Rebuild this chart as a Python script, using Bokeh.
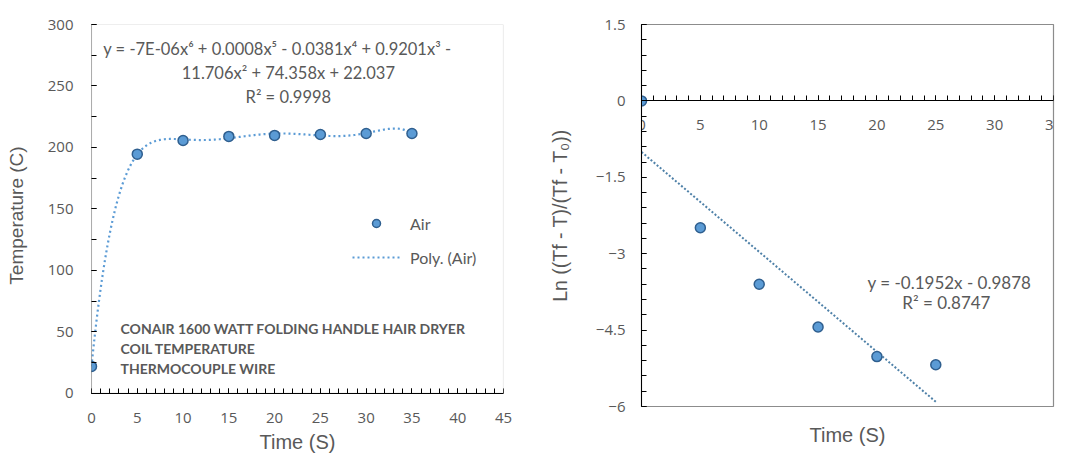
import numpy as np
from bokeh.plotting import figure
from bokeh.models import (Label, Legend, LegendItem, SingleIntervalTicker, Range1d,
                          BoxAnnotation, LinearAxis, FixedTicker, CustomJSTickFormatter)
from bokeh.layouts import row
from bokeh.embed import file_html
from bokeh.resources import INLINE

# ---------------- data ----------------
# Left chart: coil temperature vs time
time_air = [0, 5, 10, 15, 20, 25, 30, 35]
temp_air = [22, 194.6, 205.7, 209.0, 209.8, 210.6, 211.4, 211.4]

# Right chart: Ln((Tf - T)/(Tf - T0)) vs time
time_ln = [0, 5, 10, 15, 20, 25]
ln_ratio = [0, -2.49, -3.60, -4.44, -5.02, -5.18]

left_eq_lines = ["y = -7E-06x\u2076 + 0.0008x\u2075 - 0.0381x\u2074 + 0.9201x\u00b3 -",
                 "11.706x\u00b2 + 74.358x + 22.037",
                 "R\u00b2 = 0.9998"]
left_note_lines = ["CONAIR 1600 WATT FOLDING HANDLE HAIR DRYER",
                   "COIL TEMPERATURE",
                   "THERMOCOUPLE WIRE"]
right_eq_lines = ["y = -0.1952x - 0.9878", "R\u00b2 = 0.8747"]

GRAY = "#595959"
BLUE = "#5B9BD5"
DARK = "#2F5F8F"
BORDER = "#8c8c8c"
TICK_FONT = "Open Sans"
LABEL_FONT = "Liberation Sans"
ANN_FONT = "Lato"


def style_axis(ax, tick_size="15px"):
    ax.axis_line_color = "black"
    ax.axis_line_width = 1
    ax.major_tick_in = 5
    ax.major_tick_out = 0
    ax.minor_tick_in = 5
    ax.minor_tick_out = 0
    ax.major_tick_line_color = "black"
    ax.minor_tick_line_color = "black"
    ax.major_label_text_font = TICK_FONT
    ax.major_label_text_font_size = tick_size
    ax.major_label_text_color = GRAY
    ax.axis_label_text_font = LABEL_FONT
    ax.axis_label_text_font_style = "normal"
    ax.axis_label_text_color = GRAY


# ---------------- left figure ----------------
p1 = figure(width=538, height=456, min_border_left=91, min_border_right=35,
            min_border_top=24, min_border_bottom=50,
            x_range=Range1d(0, 45), y_range=Range1d(-10.6, 300),
            output_backend="svg", toolbar_location=None)
p1.grid.visible = False
p1.outline_line_color = None

# tick numbers and title of the time axis (in the panel under the plot)
xa = p1.xaxis[0]
style_axis(xa)
xa.ticker = SingleIntervalTicker(interval=5, num_minor_ticks=0)
xa.axis_line_color = None
xa.major_tick_line_color = None
xa.minor_tick_line_color = None
xa.major_label_standoff = 6
xa.axis_label = "Time (S)"
xa.axis_label_text_font_size = "20px"
xa.axis_label_standoff = 5

# the visible time axis line with its ticks, at Temperature = 0
xb = LinearAxis(fixed_location=0, ticker=SingleIntervalTicker(interval=5, num_minor_ticks=5),
                formatter=CustomJSTickFormatter(code="return ''"))
style_axis(xb)
p1.add_layout(xb, "below")

ya = p1.yaxis[0]
style_axis(ya)
ya.axis_line_color = None
ya.ticker = SingleIntervalTicker(interval=50, num_minor_ticks=2)
ya.axis_label = "Temperature (C)"
ya.axis_label_text_font_size = "19px"
ya.major_label_standoff = 18
ya.axis_label_standoff = 18

# plot-area border (gray) and black left axis line limited to the 0..300 span
p1.add_layout(BoxAnnotation(left=0, right=45, bottom=0, top=300, fill_alpha=0,
                            line_color=BORDER, line_width=1.2, level="underlay"))
p1.add_layout(BoxAnnotation(left=0, right=0, bottom=0, top=300, fill_alpha=0,
                            line_color="black", line_width=1))

coef6 = np.polyfit(time_air, temp_air, 6)
xs_fit = np.linspace(min(time_air), max(time_air), 300)
ys_fit = np.polyval(coef6, xs_fit)
r_fit = p1.line(xs_fit, ys_fit, line_color=BLUE, line_width=2.2, line_dash="2 3")
r_pts = p1.scatter(time_air, temp_air, size=10, fill_color=BLUE, line_color=DARK, line_width=1.5)

legend = Legend(items=[LegendItem(label="Air", renderers=[r_pts]),
                       LegendItem(label="Poly. (Air)", renderers=[r_fit])],
                location=(261, 139), glyph_width=48, glyph_height=20, label_height=20,
                spacing=14, padding=0, margin=0, border_line_color=None,
                background_fill_alpha=0, label_standoff=10,
                label_text_font=ANN_FONT, label_text_font_size="16px", label_text_color=GRAY)
p1.add_layout(legend)

for txt, xx, yy in zip(left_eq_lines, [20.3, 21.5, 21.5], [280.4, 260.5, 241.3]):
    p1.add_layout(Label(x=xx, y=yy, text=txt, text_align="center", text_baseline="middle",
                        text_font=ANN_FONT, text_font_size="16.5px", text_color=GRAY))
for txt, yy in zip(left_note_lines, [53.0, 36.9, 20.6]):
    p1.add_layout(Label(x=3.17, y=yy, text=txt, text_align="left", text_baseline="middle",
                        text_font=ANN_FONT, text_font_size="14px", text_font_style="bold",
                        text_color=GRAY))

# ---------------- right figure ----------------
p2 = figure(width=530, height=456, min_border_left=103, min_border_right=15,
            min_border_top=24, min_border_bottom=50,
            x_range=Range1d(0, 35), y_range=Range1d(-6, 1.5),
            output_backend="svg", toolbar_location=None)
p2.grid.visible = False
p2.outline_line_color = BORDER
p2.outline_line_width = 1.2
style_axis(p2.xaxis[0])
style_axis(p2.yaxis[0])
p2.xaxis[0].ticker = SingleIntervalTicker(interval=5, num_minor_ticks=5)
p2.yaxis[0].ticker = SingleIntervalTicker(interval=1.5, num_minor_ticks=5)
p2.xaxis[0].fixed_location = 0
p2.xaxis[0].major_label_standoff = 19
p2.yaxis[0].major_label_standoff = 16
p2.yaxis[0].axis_label = "Ln ((Tf - T)/(Tf - T\u2080))"
p2.yaxis[0].axis_label_text_font_size = "19.5px"
p2.yaxis[0].axis_label_standoff = 22

# axis title for time placed under the plot area (no ticks of its own)
time_axis = LinearAxis(ticker=FixedTicker(ticks=[]),
                       axis_label="Time (S)", axis_line_color=None,
                       major_tick_line_color=None, minor_tick_line_color=None,
                       major_tick_in=0, major_tick_out=0, minor_tick_out=0,
                       major_label_standoff=0, axis_label_standoff=17,
                       axis_label_text_font=LABEL_FONT, axis_label_text_font_size="20px",
                       axis_label_text_font_style="normal", axis_label_text_color=GRAY)
p2.add_layout(time_axis, "below")

coef1 = np.polyfit(time_ln, ln_ratio, 1)
xl = np.array([min(time_ln), max(time_ln)])
p2.line(xl, np.polyval(coef1, xl), line_color="#4F81A8", line_width=2, line_dash="2 2")
p2.scatter(time_ln, ln_ratio, size=10, fill_color=BLUE, line_color=DARK, line_width=1.5)

for txt, xx, yy in zip(right_eq_lines, [26.16, 25.9], [-3.56, -3.95]):
    p2.add_layout(Label(x=xx, y=yy, text=txt, text_align="center", text_baseline="middle",
                        text_font=ANN_FONT, text_font_size="17px", text_color=GRAY))

layout = row(p1, p2)
open("out.html", "w").write(file_html(layout, INLINE))
